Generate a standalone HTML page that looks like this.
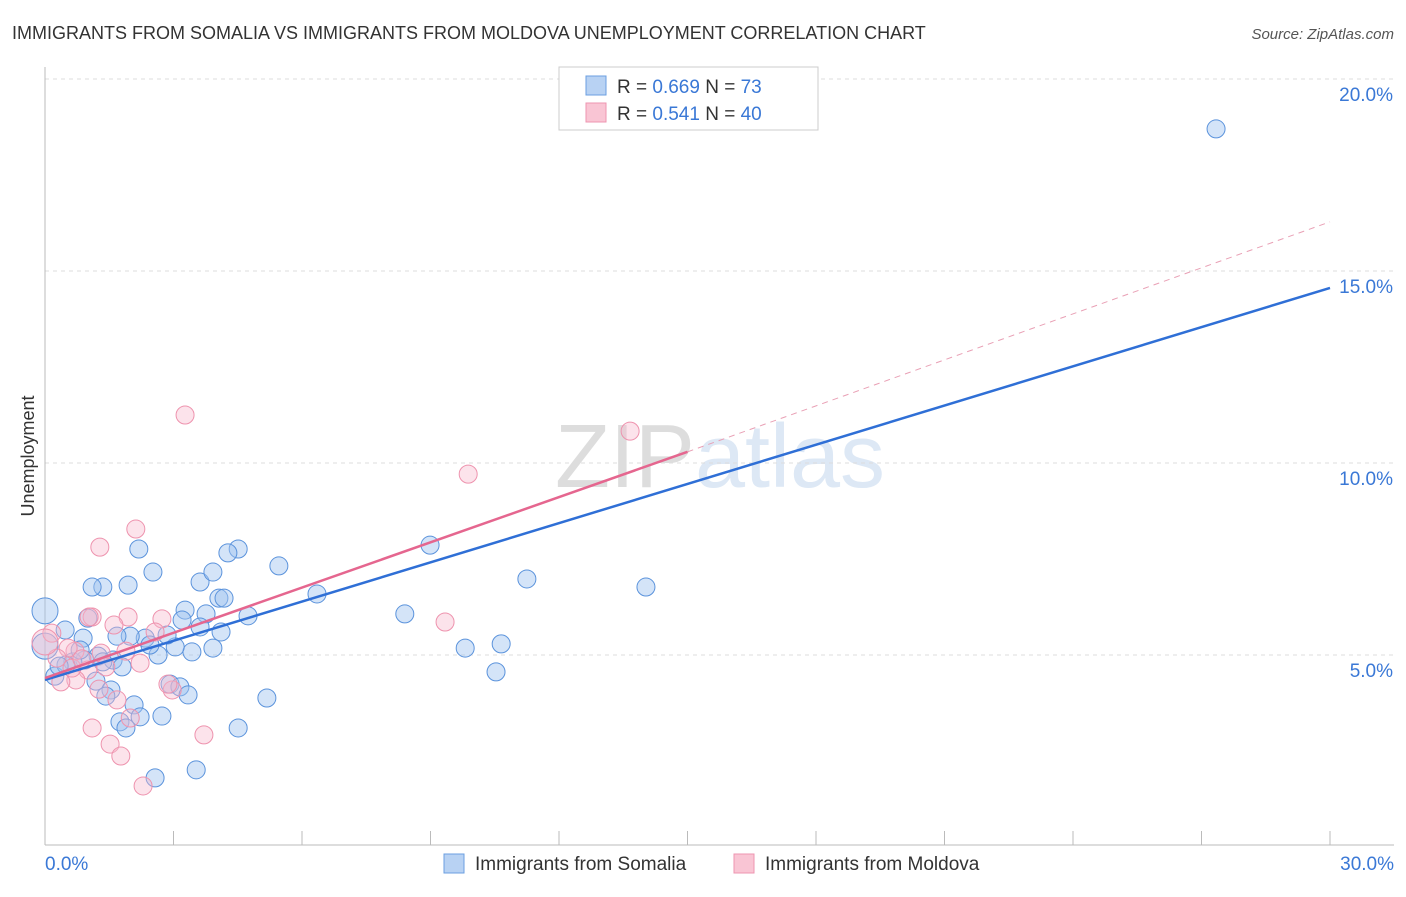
<!DOCTYPE html>
<html><head><meta charset="utf-8"><style>
body{margin:0;background:#fff;font-family:"Liberation Sans",sans-serif;}
svg text{font-family:"Liberation Sans",sans-serif;}
</style></head><body>
<svg id="c" width="1406" height="892">
<text x="12" y="39" font-size="18" fill="#333">IMMIGRANTS FROM SOMALIA VS IMMIGRANTS FROM MOLDOVA UNEMPLOYMENT CORRELATION CHART</text>
<text x="1394" y="39" font-size="15" fill="#555" font-style="italic" text-anchor="end">Source: ZipAtlas.com</text>
<text x="720" y="487" font-size="90" fill="#e4e6ea" text-anchor="middle" font-family="Liberation Serif"><tspan fill="#ddd">ZIP</tspan><tspan fill="#dde8f5" font-family="Liberation Sans">atlas</tspan></text>
<text x="34" y="456" font-size="18" fill="#333" transform="rotate(-90 34 456)" text-anchor="middle">Unemployment</text>
<g id="grid"></g><g id="pts"></g><g id="lines"></g>
<g>
<rect x="559" y="67" width="259" height="63" fill="#fff" stroke="#ccc"/>
<rect x="586" y="76" width="20" height="19" fill="#b8d2f3" stroke="#6b9fe0"/>
<rect x="586" y="103" width="20" height="19" fill="#f9c5d4" stroke="#ee95b0"/>
<text x="617" y="93" font-size="19" fill="#333">R = <tspan fill="#3a78d6">0.669</tspan>   N = <tspan fill="#3a78d6">73</tspan></text>
<text x="617" y="120" font-size="19" fill="#333">R = <tspan fill="#3a78d6">0.541</tspan>   N = <tspan fill="#3a78d6">40</tspan></text>
</g>
<g>
<rect x="444" y="854" width="20" height="19" fill="#b8d2f3" stroke="#6b9fe0"/>
<text x="475" y="870" font-size="19" fill="#333">Immigrants from Somalia</text>
<rect x="734" y="854" width="20" height="19" fill="#f9c5d4" stroke="#ee95b0"/>
<text x="765" y="870" font-size="19" fill="#333">Immigrants from Moldova</text>
</g>
</svg>
<script>
const yTicks=[5,10,15,20];
const yTickLabels=["5.0%","10.0%","15.0%","20.0%"];
const xTickLabels=["0.0%","30.0%"];
const somaliaX=[27.34,8.99,11.25,14.03,8.40,9.81,10.65,10.53,6.35,5.46,4.51,4.27,2.52,2.19,1.94,1.35,1.10,3.62,3.92,4.06,4.18,4.74,3.76,3.27,3.20,3.62,4.11,3.92,3.43,3.04,2.85,2.64,2.34,1.99,1.68,2.45,1.00,0.89,0.47,0,0,0.23,1.24,1.59,1.80,1.35,0.93,0.65,0.49,1.19,1.54,1.42,2.08,2.22,1.75,1.89,2.73,2.92,3.15,3.34,5.18,4.51,2.57,3.53,0.82,0.33];
const somaliaY=[18.7,7.86,6.98,6.77,6.07,5.18,5.29,4.56,6.59,7.32,7.76,7.66,7.16,7.76,6.82,6.77,6.77,6.90,7.16,6.48,6.48,6.02,6.07,6.17,5.91,5.73,5.60,5.18,5.08,5.21,5.52,5.0,5.44,5.49,5.49,5.26,5.96,5.44,5.65,6.15,5.23,4.45,4.97,4.87,4.69,4.82,4.87,4.82,4.74,4.32,4.09,3.93,3.70,3.39,3.26,3.10,3.41,4.24,4.17,3.96,3.88,3.10,1.80,2.01,5.13,4.71];
const moldovaX=[3.27,13.66,9.88,2.12,1.28,9.34,1.10,1.03,1.94,2.73,1.61,2.57,0.16,0.70,1.31,1.89,0.54,0.28,2.22,1.42,1.00,0.72,0.37,1.26,2.97,2.87,1.68,1.99,1.10,1.52,1.77,2.29,3.71,0,0.63,0.86];
const moldovaY=[11.25,10.83,9.71,8.28,7.81,5.86,5.99,5.99,5.99,5.94,5.78,5.60,5.57,5.10,5.05,5.10,5.18,4.92,4.79,4.69,4.61,4.35,4.30,4.11,4.09,4.24,3.83,3.36,3.10,2.68,2.37,1.59,2.92,5.34,4.66,4.90];
const somaliaFit=[4.35,14.56];
const moldovaFit=[4.4,10.29,16.28];
const NS="http://www.w3.org/2000/svg";
const X=v=>45+v/30*1285, Y=v=>847-v*38.4;
function mk(t,a,p){const e=document.createElementNS(NS,t);for(const k in a)e.setAttribute(k,a[k]);p.appendChild(e);return e;}
const g=document.getElementById('grid');
yTicks.forEach((t,i)=>{
 const l=mk('line',{x1:45,x2:1394,y1:Y(t),y2:Y(t),stroke:'#ddd','stroke-dasharray':'4,4'},g);
 
 
 const tx=mk('text',{x:1393,y:Y(t)+22,'font-size':19,fill:'#3a78d6','text-anchor':'end'},g);
 tx.textContent=yTickLabels[i];
 
 
});
const ax=mk('line',{x1:45,x2:1394,y1:845,y2:845,stroke:'#bbb'},g);


const ay=mk('line',{x1:45,x2:45,y1:67,y2:845,stroke:'#bbb'},g);


for(let i=0;i<=10;i++){const t=mk('line',{x1:X(i*3),x2:X(i*3),y1:831,y2:845,stroke:'#bbb'},g);
 
 }
[[0,'start',45],[1,'end',1394]].forEach(([i,a,x])=>{const t=mk('text',{x:x,y:870,'font-size':19,fill:'#3a78d6','text-anchor':a},g);t.textContent=xTickLabels[i];
 
 });
const p=document.getElementById('pts');
somaliaX.forEach((x,i)=>{const c=mk('circle',{cx:X(x),cy:Y(somaliaY[i]),r:x===0?13:9,fill:'rgba(160,196,240,0.45)',stroke:'#5b93dc','stroke-width':1},p);
 
 });
moldovaX.forEach((x,i)=>{const c=mk('circle',{cx:X(x),cy:Y(moldovaY[i]),r:x===0?13:9,fill:'rgba(248,184,204,0.4)',stroke:'#ee93ae','stroke-width':1},p);
 
 });
const L=document.getElementById('lines');
const b=mk('line',{x1:X(0),y1:Y(somaliaFit[0]),x2:X(30),y2:Y(somaliaFit[1]),stroke:'#2f6fd6','stroke-width':2.5},L);


const d=mk('line',{x1:X(15),y1:Y(moldovaFit[1]),x2:X(30),y2:Y(moldovaFit[2]),stroke:'#e9a0b5','stroke-width':1,'stroke-dasharray':'6,5'},L);


const m=mk('line',{x1:X(0),y1:Y(moldovaFit[0]),x2:X(15),y2:Y(moldovaFit[1]),stroke:'#e5668f','stroke-width':2.5},L);


</script>
</body></html>
